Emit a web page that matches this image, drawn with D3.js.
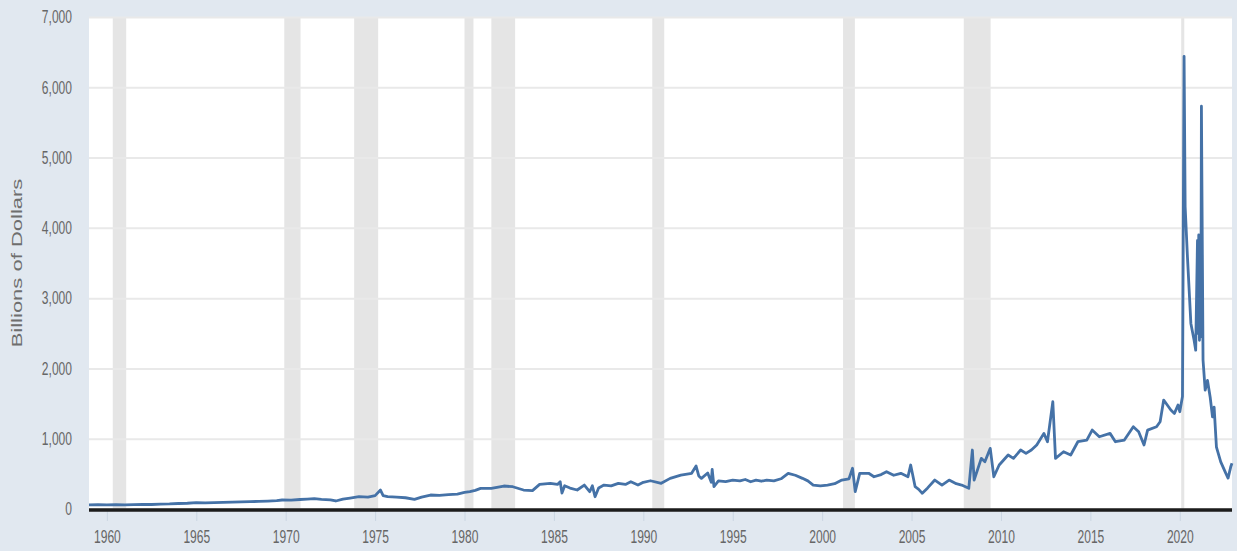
<!DOCTYPE html>
<html>
<head>
<meta charset="utf-8">
<script src="https://cdn.jsdelivr.net/npm/d3@7"></script>
<style>
  html, body { margin: 0; padding: 0; background: #e1e8f0; }
  #chart svg { display: block; }
</style>
</head>
<body>
<div id="chart"></div>
<script>
// series, decimal years
const years = [
  1959.0, 1959.5, 1960.0, 1960.5, 1961.0, 1961.5, 1962.0, 1962.5, 1963.0, 1963.5,
  1964.0, 1964.5, 1965.0, 1965.5, 1966.0, 1966.5, 1967.0, 1967.5, 1968.0, 1968.5,
  1969.0, 1969.5, 1969.8, 1970.3, 1970.8, 1971.2, 1971.6, 1972.0, 1972.5, 1972.8,
  1973.2, 1973.6, 1974.1, 1974.6, 1975.0, 1975.3, 1975.45, 1975.7, 1976.2, 1976.7,
  1977.2, 1977.6, 1978.1, 1978.6, 1979.1, 1979.6, 1980.0, 1980.3, 1980.6, 1980.9,
  1981.5, 1982.2, 1982.7, 1983.3, 1983.8, 1984.2, 1984.8, 1985.2, 1985.35, 1985.45,
  1985.6, 1985.9, 1986.3, 1986.7, 1987.0, 1987.15, 1987.3, 1987.5, 1987.8, 1988.2,
  1988.6, 1989.0, 1989.3, 1989.7, 1990.0, 1990.4, 1991.0, 1991.5, 1992.1, 1992.7,
  1992.95, 1993.1, 1993.25, 1993.6, 1993.8, 1993.85, 1993.95, 1994.2, 1994.6, 1995.0,
  1995.4, 1995.7, 1996.0, 1996.3, 1996.6, 1996.9, 1997.3, 1997.7, 1998.1, 1998.5,
  1998.9, 1999.2, 1999.5, 1999.9, 2000.3, 2000.7, 2001.1, 2001.5, 2001.7, 2001.85,
  2002.1, 2002.6, 2002.9, 2003.3, 2003.6, 2004.0, 2004.4, 2004.8, 2004.95, 2005.2,
  2005.4, 2005.6, 2005.9, 2006.3, 2006.7, 2007.1, 2007.5, 2007.8, 2008.2, 2008.4,
  2008.5, 2008.9, 2009.1, 2009.4, 2009.6, 2009.9, 2010.4, 2010.7, 2011.1, 2011.4,
  2011.7, 2012.0, 2012.4, 2012.6, 2012.9, 2013.05, 2013.5, 2013.9, 2014.3, 2014.8,
  2015.1, 2015.5, 2016.1, 2016.4, 2016.9, 2017.4, 2017.7, 2018.0, 2018.2, 2018.7,
  2018.9, 2019.1, 2019.5, 2019.7, 2019.9, 2020.0, 2020.15, 2020.24, 2020.3, 2020.43,
  2020.62, 2020.8, 2020.89, 2020.99, 2021.02, 2021.06, 2021.1, 2021.14, 2021.18, 2021.21,
  2021.3, 2021.42, 2021.55, 2021.7, 2021.83, 2021.92, 2022.05, 2022.29, 2022.57, 2022.7,
  2022.85, 2022.92
];
const values = [
  60, 62, 58, 62, 60, 63, 65, 64, 70, 72,
  78, 82, 90, 86, 92, 95, 98, 102, 105, 108,
  112, 118, 128, 125, 135, 140, 147, 138, 130, 114,
  140, 155, 175, 170, 190, 270, 190, 175, 168, 160,
  138, 170, 199, 195, 205, 213, 237, 246, 265, 294,
  294, 327, 317, 270, 261, 351, 365, 350, 388, 227,
  330, 298, 270, 341, 246, 330, 175, 300, 341, 330,
  365, 350, 388, 341, 380, 402, 365, 436, 483, 508,
  611, 470, 436, 512, 380, 565, 320, 400, 390, 412,
  400, 420, 388, 412, 395, 412, 400, 430, 508, 480,
  436, 400, 341, 330, 341, 360, 412, 430, 579, 246,
  508, 508, 459, 490, 531, 480, 508, 460, 626, 317,
  280, 223, 300, 412, 341, 412, 360, 341, 294, 839,
  412, 721, 673, 863, 459, 626, 768, 721, 839, 792,
  839, 910, 1076, 957, 1526, 721, 815, 768, 957, 981,
  1123, 1028, 1076, 957, 981, 1170, 1099, 910, 1123, 1170,
  1241, 1550, 1408, 1360, 1480, 1384, 1600, 6440, 4300, 3580,
  2640, 2400, 2260, 3820, 2500, 3900, 2400, 3800, 2450, 5730,
  2120, 1690, 1830, 1590, 1310, 1450, 880, 670, 510, 440,
  600, 650
];

// recessions (start, end)
const recStart = [1960.33, 1969.92, 1973.83, 1980.0, 1981.5, 1990.5, 2001.17, 2007.92, 2020.08];
const recEnd   = [1961.08, 1970.83, 1975.17, 1980.5, 1982.83, 1991.17, 2001.83, 2009.42, 2020.25];

const xTicks = [1960, 1965, 1970, 1975, 1980, 1985, 1990, 1995, 2000, 2005, 2010, 2015, 2020];
const yTicks = [0, 1000, 2000, 3000, 4000, 5000, 6000, 7000];
const yLabel = "Billions of Dollars";

var W = 1237, H = 551,
    margin = {top: 17, right: 5, bottom: 42, left: 89},
    w = W - margin.left - margin.right,
    h = H - margin.top - margin.bottom;

const squeeze = 0.67;

const svg = d3.select("#chart")
  .append("svg")
  .attr("width", W)
  .attr("height", H);

svg.append("rect")
   .attr("width", W).attr("height", H)
   .attr("fill", "#e1e8f0");

const chart = svg.append("g")
  .attr("transform", `translate(${margin.left},${margin.top})`);

chart.append("rect")
  .attr("width", w).attr("height", h)
  .attr("fill", "#ffffff");

const xScale = d3.scaleLinear()
  .domain([1959.0, 2022.92])
  .range([0, w]);

const yScale = d3.scaleLinear()
  .domain([0, 7000])
  .range([h, 0]);

// recession shading
chart.append("g")
  .selectAll("rect")
  .data(recStart)
  .enter()
  .append("rect")
  .attr("x", (d) => xScale(d))
  .attr("y", 0)
  .attr("width", (d, i) => xScale(recEnd[i]) - xScale(d))
  .attr("height", h)
  .attr("fill", "#e5e5e5");

// y axis + grid
const yAxis = chart.append("g")
  .attr("id", "y-axis")
  .call(d3.axisLeft(yScale)
    .tickValues(yTicks)
    .tickSize(-w)
    .tickFormat(d3.format(",")));

yAxis.select(".domain").remove();
yAxis.selectAll("line")
  .attr("stroke", "#e9e9e9")
  .attr("stroke-width", 2);
yAxis.selectAll("text")
  .attr("x", -17 / squeeze)
  .attr("transform", `scale(${squeeze},1)`)
  .attr("fill", "#666")
  .style("font-family", "'Liberation Sans', Arial, sans-serif")
  .style("font-size", "18px");

// x axis
const xAxis = chart.append("g")
  .attr("id", "x-axis")
  .attr("transform", `translate(0,${h})`)
  .call(d3.axisBottom(xScale)
    .tickValues(xTicks)
    .tickSize(12)
    .tickFormat(d3.format("d")));

xAxis.select(".domain").remove();
xAxis.selectAll("line")
  .attr("stroke", "#cbd6e2")
  .attr("stroke-width", 1);
xAxis.selectAll("text")
  .attr("y", 21)
  .attr("transform", `scale(${squeeze},1)`)
  .attr("fill", "#666")
  .style("font-family", "'Liberation Sans', Arial, sans-serif")
  .style("font-size", "18px");

// series line
const line = d3.line()
  .x((d, i) => xScale(years[i]))
  .y((d) => yScale(d));

chart.append("path")
  .datum(values)
  .attr("d", line)
  .attr("fill", "none")
  .attr("stroke", "#4572a7")
  .attr("stroke-width", 2.8)
  .attr("stroke-linejoin", "round");

// zero line
chart.append("line")
  .attr("x1", 0).attr("x2", w)
  .attr("y1", yScale(0) + 1).attr("y2", yScale(0) + 1)
  .attr("stroke", "#1c1c1c")
  .attr("stroke-width", 3.5);

// y label
svg.append("text")
  .attr("transform", `translate(22,263) scale(${squeeze},1) rotate(-90)`)
  .attr("text-anchor", "middle")
  .attr("fill", "#6e6e6e")
  .style("font-family", "'Liberation Sans', Arial, sans-serif")
  .style("font-size", "22px")
  .text(yLabel);
</script>
</body>
</html>
